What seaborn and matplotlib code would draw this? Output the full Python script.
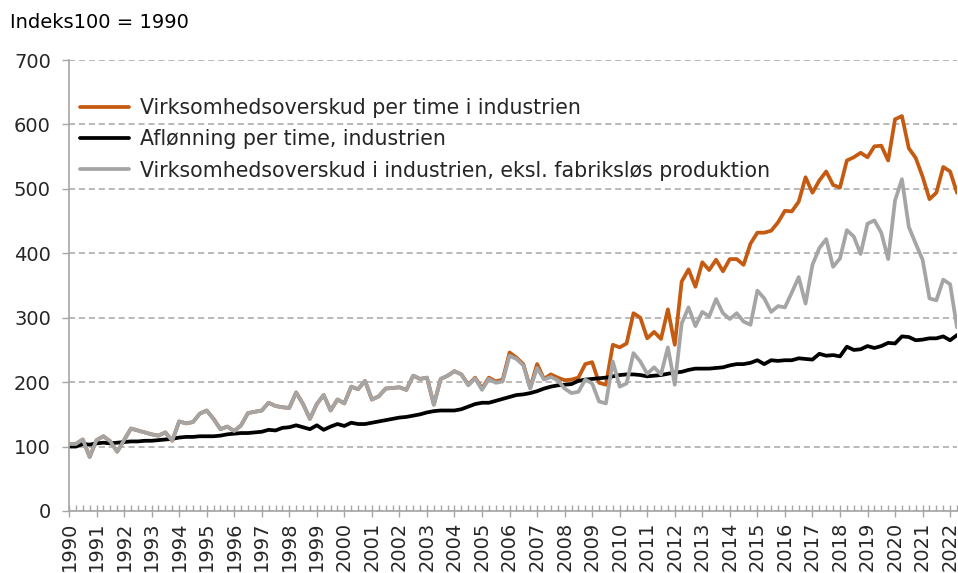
import matplotlib
matplotlib.use("Agg")
import numpy as np
import pandas as pd
import seaborn as sns
import matplotlib.pyplot as plt
from matplotlib.ticker import FixedLocator, MultipleLocator

# ---- data (quarterly, 1990K1 - 2022K2), index 1990 = 100 ----
years = list(range(1990, 2023))
year_labels = [str(y) for y in years]
periods = [f"{y}K{q}" for y in years for q in range(1, 5)][:130]

overskud_time = [
    104, 104, 111, 84, 110, 116, 108, 92, 110, 128,
    125, 122, 119, 117, 122, 109, 139, 136, 138, 151,
    156, 143, 127, 131, 124, 133, 152, 154, 156, 168,
    163, 161, 160, 184, 166, 143, 166, 180, 156, 173,
    167, 193, 189, 202, 173, 178, 190, 191, 192, 188,
    210, 205, 207, 165, 205, 210, 217, 212, 196, 207,
    190, 207, 201, 204, 246, 238, 228, 191, 228, 205,
    212, 207, 203, 204, 207, 228, 231, 199, 196, 258,
    254, 260, 307, 300, 268, 278, 267, 313, 258, 356,
    375, 348, 386, 374, 390, 372, 391, 391, 382, 415,
    432, 432, 435, 448, 466, 465, 480, 518, 494, 513,
    527, 506, 502, 544, 549, 556, 549, 566, 567, 544,
    608, 613, 563, 548, 519, 484, 494, 534, 527, 494,
]

afloenning = [
    100, 100, 104, 103, 105, 106, 105, 106, 107, 108,
    108, 109, 109, 110, 111, 112, 114, 115, 115, 116,
    116, 116, 117, 119, 120, 121, 121, 122, 123, 126,
    125, 129, 130, 133, 130, 127, 133, 126, 131, 135,
    132, 137, 135, 135, 137, 139, 141, 143, 145, 146,
    148, 150, 153, 155, 156, 156, 156, 158, 162, 166,
    168, 168, 171, 174, 177, 180, 181, 183, 186, 190,
    193, 195, 196, 197, 202, 204, 205, 206, 207, 209,
    211, 212, 212, 211, 209, 210, 211, 213, 215, 216,
    219, 221, 221, 221, 222, 223, 226, 228, 228, 230,
    234, 228, 234, 233, 234, 234, 237, 236, 235, 244,
    241, 242, 240, 255, 250, 251, 256, 253, 256, 261,
    260, 271, 270, 265, 266, 268, 268, 271, 265, 273,
]

overskud_ekskl = [
    104, 104, 111, 84, 110, 116, 108, 92, 110, 128,
    125, 122, 119, 117, 122, 109, 139, 136, 138, 151,
    156, 143, 127, 131, 124, 133, 152, 154, 156, 168,
    163, 161, 160, 184, 166, 143, 166, 180, 156, 173,
    167, 193, 189, 202, 173, 178, 190, 191, 192, 188,
    210, 205, 207, 165, 205, 210, 217, 212, 195, 206,
    188, 205, 199, 201, 241, 236, 226, 190, 222, 204,
    208, 203, 190, 183, 185, 204, 198, 170, 167, 232,
    193, 198, 245, 232, 213, 223, 212, 254, 196, 291,
    316, 287, 309, 302, 329, 307, 298, 307, 294, 289,
    342, 330, 309, 318, 316, 339, 363, 322, 382, 408,
    422, 379, 392, 436, 426, 399, 446, 451, 432, 391,
    482, 515, 441, 415, 390, 330, 327, 359, 352, 285,
]

series_names = [
    "Virksomhedsoverskud per time i industrien",
    "Aflønning per time, industrien",
    "Virksomhedsoverskud i industrien, eksl. fabriksløs produktion",
]
series_colors = ["#C55A11", "#000000", "#A5A5A5"]

df = pd.DataFrame({
    "t": list(range(len(periods))) * 3,
    "periode": periods * 3,
    "værdi": overskud_time + afloenning + overskud_ekskl,
    "serie": [series_names[0]] * len(periods) + [series_names[1]] * len(periods)
             + [series_names[2]] * len(periods),
})

sns.set_theme(style="white")
plt.rcParams["font.family"] = ["DejaVu Sans"]

W, H = 958, 573
fig = plt.figure(figsize=(W / 100, H / 100), dpi=100)
ax = fig.add_axes([69 / W, (H - 511) / H, (957 - 69) / W, (511 - 60) / H])

sns.lineplot(data=df, x="t", y="værdi", hue="serie", hue_order=series_names,
             palette=series_colors, linewidth=2.7, ax=ax, sort=False)

ax.set_xlim(0, len(periods) - 1)
ax.set_ylim(0, 700)
ax.set_xlabel("")
ax.set_ylabel("")

# y axis
ax.yaxis.set_major_locator(MultipleLocator(100))
ax.yaxis.grid(True, color="#A6A6A6", linestyle=(0, (4, 2.5)), linewidth=1.1)
ax.tick_params(axis="y", which="major", direction="out", length=5, width=1,
               color="#A6A6A6", labelsize=14, pad=8, left=True)

# x axis: year labels on major ticks, quarterly minor ticks
ax.xaxis.set_major_locator(FixedLocator([4 * i for i in range(len(years))]))
ax.set_xticklabels(year_labels, rotation=90)
ax.xaxis.set_minor_locator(MultipleLocator(1))
ax.tick_params(axis="x", which="major", direction="inout", length=9, width=1,
               color="#A6A6A6", labelsize=14, pad=3, bottom=True)
ax.tick_params(axis="x", which="minor", direction="in", length=4, width=1,
               color="#A6A6A6", bottom=True)
ax.xaxis.grid(False)

for side in ["top", "right"]:
    ax.spines[side].set_visible(False)
for side in ["left", "bottom"]:
    ax.spines[side].set_color("#A6A6A6")
    ax.spines[side].set_linewidth(1.2)

# hide gridline at 0 (axis line)
gl = ax.get_ygridlines()
if gl:
    gl[0].set_visible(False)

leg = ax.legend(loc="upper left", bbox_to_anchor=(80 / W, 1 - 98 / H),
                bbox_transform=fig.transFigure, frameon=False, fontsize=14.8,
                handlelength=2.4, handletextpad=0.5, labelspacing=0.55,
                borderpad=0, borderaxespad=0)
for line in leg.get_lines():
    line.set_linewidth(2.7)

fig.text(10 / W, 1 - 22 / H, "Indeks100 = 1990", fontsize=14, va="center",
         ha="left", color="#000000")

fig.savefig("out.png", dpi=100)
